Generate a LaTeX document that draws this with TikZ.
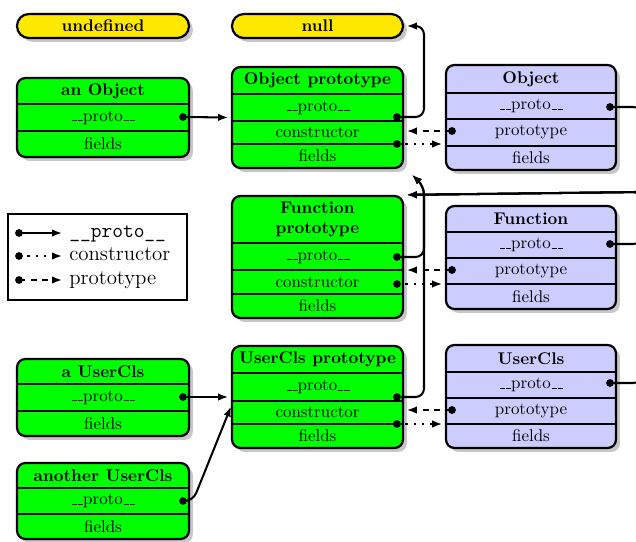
\documentclass[tikz,border=0pt]{standalone}
\usetikzlibrary{fit,shadows,arrows.meta,calc}
\definecolor{grn}{RGB}{0,255,0}
\definecolor{lav}{RGB}{204,204,255}
\definecolor{ylw}{RGB}{255,232,0}
\tikzset{
  box/.style={draw, line width=1.3pt, rounded corners=5pt, inner sep=0pt,
    drop shadow={fill=black!22, opacity=1, shadow xshift=2.3pt, shadow yshift=-2.3pt}},
  pill/.style={box, rounded corners=7pt, fill=ylw},
  rowst/.style={inner sep=0pt},
  txt/.style={inner sep=0pt, align=center},
  dotst/.style={circle, fill, inner sep=0pt, minimum size=4.6pt},
  link/.style={line width=1.2pt, -{Latex[length=6pt,width=4.4pt]}, shorten >=1.5pt},
  protol/.style={link, rounded corners=5pt},
  consl/.style={link, dash pattern=on 1.3pt off 3.6pt},
  protl/.style={link, dash pattern=on 3.8pt off 3pt},
  divider/.style={line width=1.3pt},
  legtext/.style={anchor=west, inner sep=0pt, font=\fontsize{12.3}{14}\selectfont, text height=1.6ex, text depth=.3ex},
}
\newcommand\uscore{\leavevmode\kern.06em\vbox{\hrule height.55pt width.3em}}
\newcommand\pr{\uscore\uscore proto\uscore\uscore}
\newcommand\divs[1]{\draw[divider] (#1.north west) -- (#1.north east);}
\newcommand\cell[6]{\node[rowst, fit={(#2,#3)(#4,#5)}] (#1) {};\node[txt] (#1-t) at (#1.center) {#6};}
\begin{document}
\begin{tikzpicture}[x=0.59pt, y=-0.59pt]
\useasboundingbox (0,0) rectangle (636,541);
\clip (0,0) rectangle (636,541);

% yellow
\node[pill, fit={(17,14)(189,38)}] (undef) {};
\node[txt] (undef-t) at (undef.center) {\bfseries undefined};
\node[pill, fit={(232,14)(403,38)}] (null) {};
\node[txt] (null-t) at (null.center) {\bfseries null};

% an Object
\node[box, fill=grn, fit={(17,78)(189,157)}] (ao) {};
\cell{ao-h}{17}{78}{189}{104}{\bfseries an Object}
\cell{ao-p}{17}{104}{189}{131}{\pr}
\cell{ao-f}{17}{131}{189}{157}{fields}
\divs{ao-p}\divs{ao-f}

% Object prototype
\node[box, fill=grn, fit={(232,67)(403,168)}] (op) {};
\cell{op-h}{232}{67}{403}{94}{\bfseries Object prototype}
\cell{op-p}{232}{94}{403}{121}{\pr}
\cell{op-c}{232}{121}{403}{144}{constructor}
\cell{op-f}{232}{144}{403}{168}{fields}
\divs{op-p}\divs{op-c}\divs{op-f}

% Object
\node[box, fill=lav, fit={(446,65)(616,170)}] (ob) {};
\cell{ob-h}{446}{65}{616}{93}{\bfseries Object}
\cell{ob-p}{446}{93}{616}{119}{\pr}
\cell{ob-t}{446}{119}{616}{146}{prototype}
\cell{ob-f}{446}{146}{616}{170}{fields}
\divs{ob-p}\divs{ob-t}\divs{ob-f}

% Function prototype
\node[box, fill=grn, fit={(232,196)(403,318)}] (fp) {};
\cell{fp-h}{232}{196}{403}{243}{\bfseries Function\\\bfseries prototype}
\cell{fp-p}{232}{243}{403}{270}{\pr}
\cell{fp-c}{232}{270}{403}{294}{constructor}
\cell{fp-f}{232}{294}{403}{318}{fields}
\divs{fp-p}\divs{fp-c}\divs{fp-f}

% Function
\node[box, fill=lav, fit={(446,206)(616,309)}] (fn) {};
\cell{fn-h}{446}{206}{616}{232}{\bfseries Function}
\cell{fn-p}{446}{232}{616}{258}{\pr}
\cell{fn-t}{446}{258}{616}{284}{prototype}
\cell{fn-f}{446}{284}{616}{309}{fields}
\divs{fn-p}\divs{fn-t}\divs{fn-f}

% a UserCls
\node[box, fill=grn, fit={(17,359)(189,436)}] (au) {};
\cell{au-h}{17}{359}{189}{384}{\bfseries a UserCls}
\cell{au-p}{17}{384}{189}{411}{\pr}
\cell{au-f}{17}{411}{189}{436}{fields}
\divs{au-p}\divs{au-f}

% UserCls prototype
\node[box, fill=grn, fit={(232,346)(403,448)}] (up) {};
\cell{up-h}{232}{346}{403}{373}{\bfseries UserCls prototype}
\cell{up-p}{232}{373}{403}{401}{\pr}
\cell{up-c}{232}{401}{403}{424}{constructor}
\cell{up-f}{232}{424}{403}{448}{fields}
\divs{up-p}\divs{up-c}\divs{up-f}

% UserCls
\node[box, fill=lav, fit={(446,345)(616,448)}] (uc) {};
\cell{uc-h}{446}{345}{616}{372}{\bfseries UserCls}
\cell{uc-p}{446}{372}{616}{398}{\pr}
\cell{uc-t}{446}{398}{616}{424}{prototype}
\cell{uc-f}{446}{424}{616}{448}{fields}
\divs{uc-p}\divs{uc-t}\divs{uc-f}

% another UserCls
\node[box, fill=grn, fit={(17,463)(189,539)}] (an) {};
\cell{an-h}{17}{463}{189}{488}{\bfseries another UserCls}
\cell{an-p}{17}{488}{189}{514}{\pr}
\cell{an-f}{17}{514}{189}{539}{fields}
\divs{an-p}\divs{an-f}

% legend
\node[draw, line width=1.2pt, inner sep=0pt, fit={(8,214)(187,300)}] (leg) {};
\node[dotst] (lg1) at (19,233) {};
\node[dotst] (lg2) at (19,256) {};
\node[dotst] (lg3) at (19,280) {};
\node[legtext] (lt1) at (69,233) {\texttt{\_\_proto\_\_}};
\node[legtext] (lt2) at (69,256) {constructor};
\node[legtext] (lt3) at (69,280) {prototype};
\draw[link, shorten >=4pt] (lg1.center) -- (lt1.west);
\draw[consl, shorten >=4pt] (lg2.center) -- (lt2.west);
\draw[protl, shorten >=4pt] (lg3.center) -- (lt3.west);

% dots
\node[dotst] (ao-d) at (183,117) {};
\node[dotst] (au-d) at (183,397) {};
\node[dotst] (an-d) at (183,501) {};
\node[dotst] (op-d) at (397,117) {};
\node[dotst] (op-e) at (397,144) {};
\node[dotst] (fp-d) at (397,257) {};
\node[dotst] (fp-e) at (397,284) {};
\node[dotst] (up-d) at (397,397) {};
\node[dotst] (up-e) at (397,424) {};
\node[dotst] (ob-d) at (610,107) {};
\node[dotst] (ob-e) at (452,131) {};
\node[dotst] (fn-d) at (610,244) {};
\node[dotst] (fn-e) at (452,270) {};
\node[dotst] (uc-d) at (610,383) {};
\node[dotst] (uc-e) at (452,410) {};

% helper coordinates
\coordinate (railA) at (424,186);
\coordinate (railB) at (642,192);
\coordinate (opc) at (410,173);
\coordinate (upin) at (232,404);

% instance links
\draw[protol] (ao-d.center) -- (op.west);
\draw[protol] (au-d.center) -- (up.west);
\draw[protol] (an-d.center) -- ++(10,0) -- (upin);

% prototypes to null / Object prototype
\draw[protol] (op-d.center) -| (railA |- null.east) -- (null.east);
\draw[protol] (fp-d.center) -| (railA) -- (opc);
\draw[protol] (up-d.center) -| (railA) -- (opc);

% constructors
\draw[consl] (op-e.center) -- (op-e.center -| ob.west);
\draw[consl] (fp-e.center) -- (fp-e.center -| fn.west);
\draw[consl] (up-e.center) -- (up-e.center -| uc.west);

% prototype links
\draw[protl] (ob-e.center) -- (ob-e.center -| op.east);
\draw[protl] (fn-e.center) -- (fn-e.center -| fp.east);
\draw[protl] (uc-e.center) -- (uc-e.center -| up.east);

% constructors' __proto__ to Function prototype
\draw[protol] (ob-d.center) -| (railB) -- (fp.north east);
\draw[protol] (fn-d.center) -| (railB) -- (fp.north east);
\draw[protol] (uc-d.center) -| (railB) -- (fp.north east);
\end{tikzpicture}
\end{document}
